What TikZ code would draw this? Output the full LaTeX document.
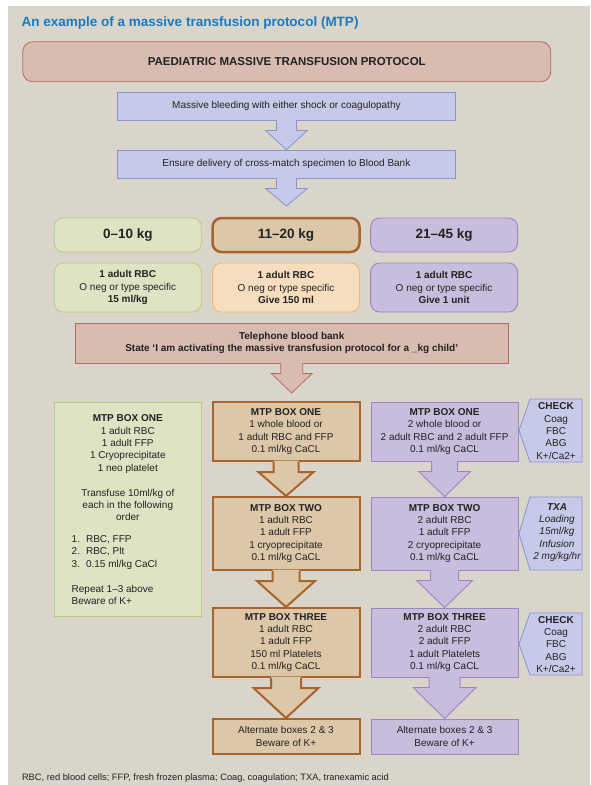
\documentclass[tikz,border=0pt]{standalone}
\usepackage{fontspec}
\setmainfont{Liberation Sans}
\usetikzlibrary{calc}

\definecolor{panelbg}{HTML}{D9D5CA}
\definecolor{titleblue}{HTML}{1B7AC2}
\definecolor{pinkfill}{HTML}{D9BCB1}
\definecolor{pinkline}{HTML}{B86B62}
\definecolor{bluefill}{HTML}{C6CAE8}
\definecolor{blueline}{HTML}{8A93CF}
\definecolor{greenfill}{HTML}{DFE3C4}
\definecolor{greenline}{HTML}{B8CC7C}
\definecolor{brownfill}{HTML}{DCC7A8}
\definecolor{brownline}{HTML}{A8642C}
\definecolor{orangefill}{HTML}{F6DDBD}
\definecolor{orangeline}{HTML}{F0B56F}
\definecolor{purplefill}{HTML}{C9BDDD}
\definecolor{purpleline}{HTML}{9B85C6}
\definecolor{inkgray}{HTML}{222222}

\tikzset{
  bodyfont/.style={font=\fontsize{10}{12.4}\selectfont},
  pinkbox/.style={draw=pinkline, fill=pinkfill, line width=0.8pt},
  bluebox/.style={draw=blueline, fill=bluefill, line width=0.8pt},
  greenbox/.style={draw=greenline, fill=greenfill, line width=0.8pt},
  brownbox/.style={draw=brownline, fill=brownfill, line width=2pt},
  orangebox/.style={draw=orangeline, fill=orangefill, line width=0.8pt},
  purplebox/.style={draw=purpleline, fill=purplefill, line width=0.9pt},
  stepbox/.style={bluebox, bodyfont, minimum width=338, minimum height=28},
  wbox/.style={rounded corners=9pt, minimum width=147, minimum height=34,
    font=\bfseries\fontsize{13.5}{16}\selectfont},
  dbox/.style={rounded corners=9pt, minimum width=147, minimum height=49,
    align=center, bodyfont},
  lbox/.style={minimum width=147, align=center, bodyfont},
  txt/.style={align=center, inner sep=0, bodyfont},
  bluearr/.style={bluebox},
  pinkarr/.style={pinkbox},
  brownarr/.style={brownbox},
  purplearr/.style={purplebox}
}

\newcommand{\blockarr}[5]{%
  \path[#1, draw=none] let \p1=(#2), \p2=(#3) in
    (\x1-#4pt,\y1+1.5pt) -- (\x1-#4pt,\y1-10pt) -- (\x1-#5pt,\y1-10pt) -- (\x1,\y2)
    -- (\x1+#5pt,\y1-10pt) -- (\x1+#4pt,\y1-10pt) -- (\x1+#4pt,\y1+1.5pt) -- cycle;
  \path[#1, fill=none] let \p1=(#2), \p2=(#3) in
    (\x1-#4pt,\y1) -- (\x1-#4pt,\y1-10pt) -- (\x1-#5pt,\y1-10pt) -- (\x1,\y2)
    -- (\x1+#5pt,\y1-10pt) -- (\x1+#4pt,\y1-10pt) -- (\x1+#4pt,\y1);
}

\begin{document}
\begin{tikzpicture}[x=1pt, y=-1pt, every node/.append style={text=inkgray}]
  \useasboundingbox (0,0) rectangle (590,785);
  \fill[white] (0,0) rectangle (590,785);
  \fill[panelbg] (8,6) rectangle (590,785);

  \node[anchor=west, inner sep=0, text=titleblue, font=\bfseries\fontsize{13.5}{16}\selectfont] (title) at (21.5,22.7) {An example of a massive transfusion protocol (MTP)};

  \node[pinkbox, rounded corners=10pt, minimum width=528, minimum height=40, font=\bfseries\fontsize{11.5}{14}\selectfont] (paed) at (286.8,61.7) {PAEDIATRIC MASSIVE TRANSFUSION PROTOCOL};
  \node[stepbox] (bleed) at (286.4,106) {Massive bleeding with either shock or coagulopathy};
  \node[stepbox] (ensure) at (286.4,164) {Ensure delivery of cross-match specimen to Blood Bank};
  \coordinate (ensureend) at (286.4,206);

  \node[wbox, greenbox] (w1) at (127.8,235) {0–10 kg};
  \node[wbox, brownbox, line width=2.5pt] (w2) at (286,235) {11–20 kg};
  \node[wbox, purplebox] (w3) at (444.1,235) {21–45 kg};

  \node[dbox, greenbox] (d1) at (127.8,287.5) {\textbf{1 adult RBC}\\O neg or type specific\\\textbf{15 ml/kg}};
  \node[dbox, orangebox] (d2) at (286,287.5) {\textbf{1 adult RBC}\\O neg or type specific\\\textbf{Give 150 ml}};
  \node[dbox, purplebox] (d3) at (444.1,287.5) {\textbf{1 adult RBC}\\O neg or type specific\\\textbf{Give 1 unit}};

  \node[pinkbox, minimum width=432.7, minimum height=40, align=center, font=\bfseries\fontsize{10}{11.7}\selectfont] (phone) at (291.7,343) {Telephone blood bank\\State ‘I am activating the massive transfusion protocol for a \_kg child’};
  \coordinate (phoneend) at (291.7,393);

  \node[greenbox, minimum width=147, minimum height=214] (gbox) at (127.8,509) {};
  \node[txt] (gtop) at (127.8,467.9) {\textbf{MTP BOX ONE}\\1 adult RBC\\1 adult FFP\\1 Cryoprecipitate\\1 neo platelet\\[12.4pt]Transfuse 10ml/kg of\\each in the following\\order};
  \node[txt, align=left, anchor=west] (glist) at (71.5,570) {1.\hspace{6pt}RBC, FFP\\2.\hspace{6pt}RBC, Plt\\3.\hspace{6pt}0.15 ml/kg CaCl\\[12.4pt]Repeat 1–3 above\\Beware of K+};

  \node[lbox, brownbox, minimum height=59] (b1) at (286,431.5) {\textbf{MTP BOX ONE}\\1 whole blood or\\1 adult RBC and FFP\\0.1 ml/kg CaCL};
  \node[lbox, brownbox, minimum height=73] (b2) at (286,533.5) {\textbf{MTP BOX TWO}\\1 adult RBC\\1 adult FFP\\1 cryoprecipitate\\0.1 ml/kg CaCL};
  \node[lbox, brownbox, minimum height=69] (b3) at (286,642.5) {\textbf{MTP BOX THREE}\\1 adult RBC\\1 adult FFP\\150 ml Platelets\\0.1 ml/kg CaCL};
  \node[lbox, brownbox, minimum height=35] (b4) at (286,736.5) {Alternate boxes 2 \& 3\\Beware of K+};

  \node[lbox, purplebox, minimum height=59] (p1) at (444.6,431.5) {\textbf{MTP BOX ONE}\\2 whole blood or\\2 adult RBC and 2 adult FFP\\0.1 ml/kg CaCL};
  \node[lbox, purplebox, minimum height=73] (p2) at (444.6,533.5) {\textbf{MTP BOX TWO}\\2 adult RBC\\1 adult FFP\\2 cryoprecipitate\\0.1 ml/kg CaCL};
  \node[lbox, purplebox, minimum height=69] (p3) at (444.6,642.5) {\textbf{MTP BOX THREE}\\2 adult RBC\\2 adult FFP\\1 adult Platelets\\0.1 ml/kg CaCL};
  \node[lbox, purplebox, minimum height=35] (p4) at (444.6,736.5) {Alternate boxes 2 \& 3\\Beware of K+};

  \draw[bluebox] (530,399) -- (582,399) -- (582,462) -- (530,462) -- (519,430.5) -- cycle;
  \node[txt] (chk1) at (556,431) {\textbf{CHECK}\\Coag\\FBC\\ABG\\K+/Ca2+};
  \draw[bluebox] (530,497) -- (582,497) -- (582,570) -- (530,570) -- (519,533.5) -- cycle;
  \node[txt, font=\itshape\fontsize{10}{12.4}\selectfont] (txa) at (557,532.5) {\textbf{TXA}\\Loading\\15ml/kg\\Infusion\\2 mg/kg/hr};
  \draw[bluebox] (530,613) -- (582,613) -- (582,675) -- (530,675) -- (519,644) -- cycle;
  \node[txt] (chk3) at (556,644.5) {\textbf{CHECK}\\Coag\\FBC\\ABG\\K+/Ca2+};

  \blockarr{bluearr}{bleed.south}{ensure.north}{10}{21}
  \blockarr{bluearr}{ensure.south}{ensureend}{10}{21}
  \blockarr{pinkarr}{phone.south}{phoneend}{11}{20.5}
  \blockarr{brownarr}{b1.south}{b2.north}{12.5}{27.5}
  \blockarr{brownarr}{b2.south}{b3.north}{13.5}{29}
  \blockarr{brownarr}{b3.south}{b4.north}{15}{32.5}
  \blockarr{purplearr}{p1.south}{p2.north}{13}{26}
  \blockarr{purplearr}{p2.south}{p3.north}{14}{28}
  \blockarr{purplearr}{p3.south}{p4.north}{15.5}{31.5}

  \node[anchor=west, inner sep=0, font=\fontsize{9.3}{11}\selectfont] (foot) at (21.8,778) {RBC, red blood cells; FFP, fresh frozen plasma; Coag, coagulation; TXA, tranexamic acid};
\end{tikzpicture}
\end{document}
